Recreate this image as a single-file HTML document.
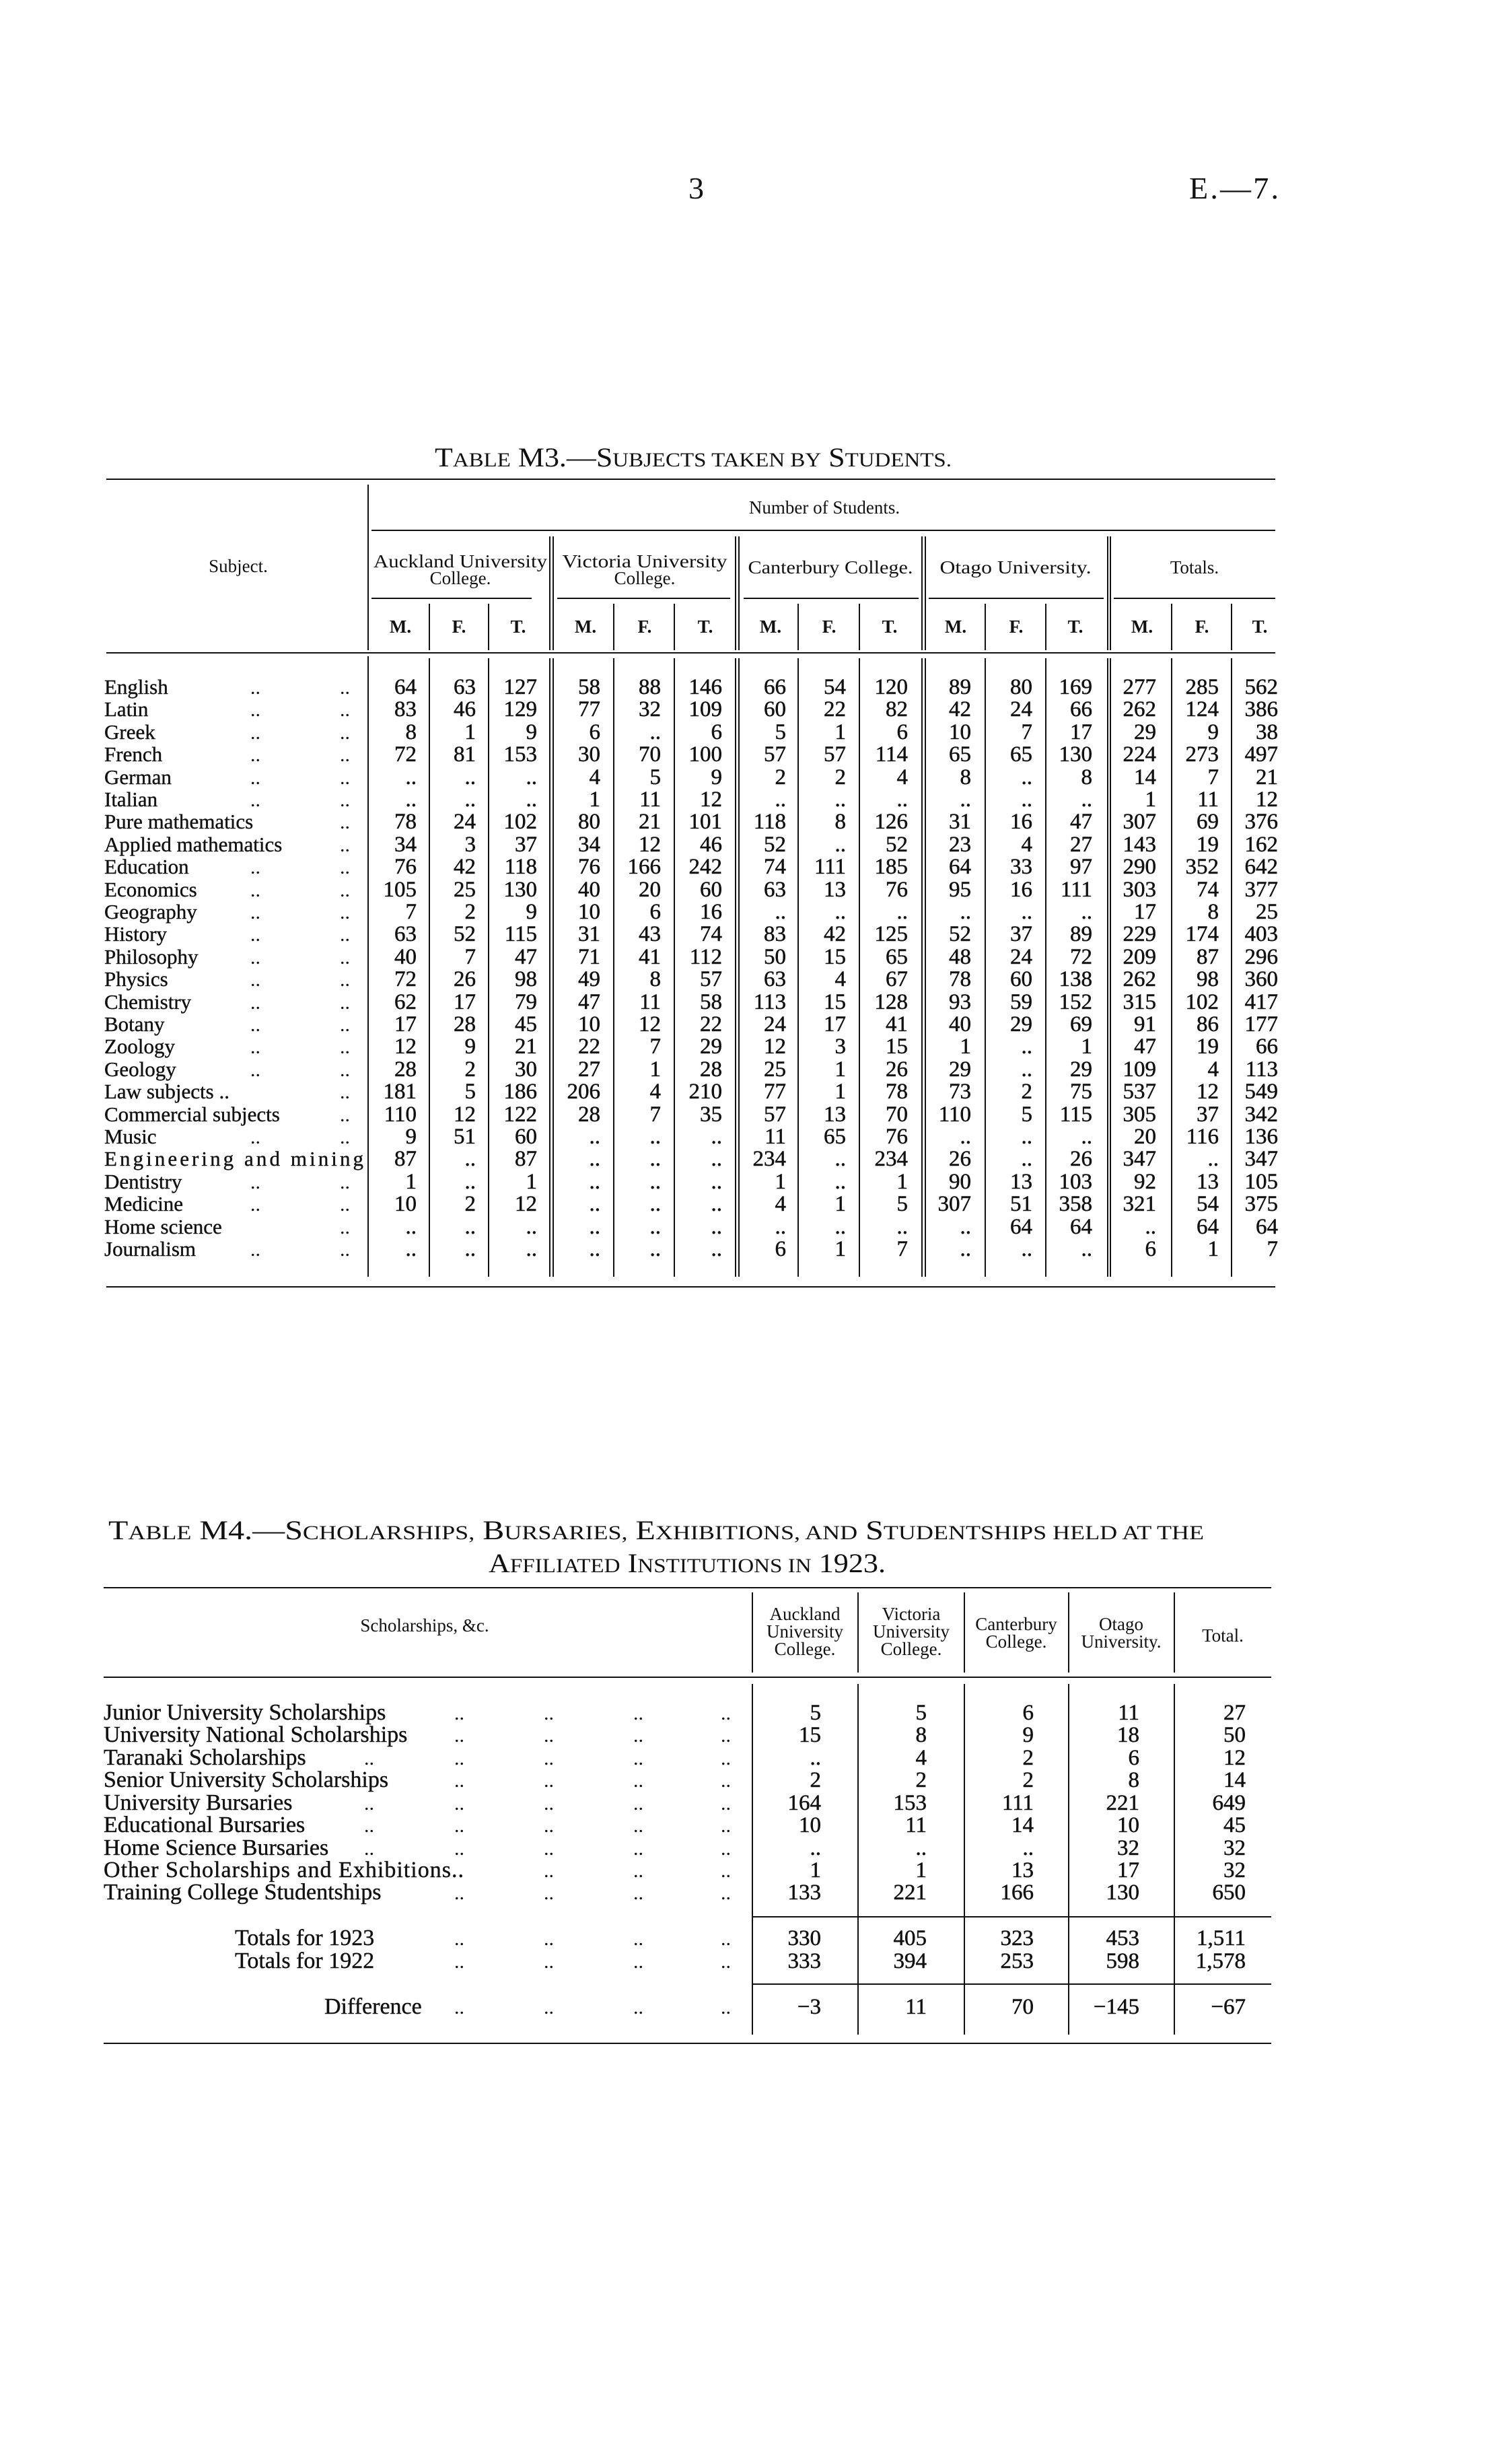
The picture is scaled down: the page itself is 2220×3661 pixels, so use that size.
<!DOCTYPE html>
<html><head><meta charset="utf-8"><style>
html,body{margin:0;padding:0;background:#fff;}
svg{display:block;}
text{font-family:"Liberation Serif",serif;fill:#111;}
.n{font-size:33px;text-anchor:end;stroke:#111;stroke-width:0.5;}
.l{font-size:31px;stroke:#111;stroke-width:0.4;}
.l4{font-size:34px;stroke:#111;stroke-width:0.4;}
.h{font-size:27px;text-anchor:middle;}
.d{font-size:30px;}
</style></head><body>
<svg width="2220" height="3661" viewBox="0 0 2220 3661" xmlns="http://www.w3.org/2000/svg">
<rect width="2220" height="3661" fill="#fff"/>
<text x="1023" y="295" style="font-size:46px">3</text>
<text x="1767" y="295" style="font-size:46px" textLength="133">E.—7.</text>

<text x="646" y="693" textLength="768" lengthAdjust="spacingAndGlyphs" style="font-size:40px">T<tspan style="font-size:30px">ABLE</tspan> M3.—S<tspan style="font-size:30px">UBJECTS TAKEN BY</tspan> S<tspan style="font-size:30px">TUDENTS.</tspan></text>

<g stroke="#111" stroke-width="2" fill="none">
<line x1="158" y1="712" x2="1895" y2="712"/>
<line x1="552" y1="788" x2="1895" y2="788"/>
<line x1="158" y1="970" x2="1895" y2="970"/>
<line x1="158" y1="1912" x2="1895" y2="1912"/>
<line x1="552" y1="889" x2="790" y2="889"/>
<line x1="828" y1="889" x2="1085" y2="889"/>
<line x1="1105" y1="889" x2="1365" y2="889"/>
<line x1="1380" y1="889" x2="1640" y2="889"/>
<line x1="1655" y1="889" x2="1895" y2="889"/>
<line x1="547" y1="720" x2="547" y2="966"/>
<line x1="547" y1="975" x2="547" y2="1897"/>
<line x1="817" y1="797" x2="817" y2="966"/><line x1="822" y1="797" x2="822" y2="966"/>
<line x1="1093" y1="797" x2="1093" y2="966"/><line x1="1098" y1="797" x2="1098" y2="966"/>
<line x1="1370" y1="797" x2="1370" y2="966"/><line x1="1375" y1="797" x2="1375" y2="966"/>
<line x1="1646" y1="797" x2="1646" y2="966"/><line x1="1650" y1="797" x2="1650" y2="966"/>
<line x1="817" y1="978" x2="817" y2="1897"/><line x1="822" y1="978" x2="822" y2="1897"/>
<line x1="1093" y1="978" x2="1093" y2="1897"/><line x1="1098" y1="978" x2="1098" y2="1897"/>
<line x1="1370" y1="978" x2="1370" y2="1897"/><line x1="1375" y1="978" x2="1375" y2="1897"/>
<line x1="1646" y1="978" x2="1646" y2="1897"/><line x1="1650" y1="978" x2="1650" y2="1897"/>
<line x1="638" y1="897" x2="638" y2="966"/><line x1="726" y1="897" x2="726" y2="966"/>
<line x1="912" y1="897" x2="912" y2="966"/><line x1="1002" y1="897" x2="1002" y2="966"/>
<line x1="1186" y1="897" x2="1186" y2="966"/><line x1="1277" y1="897" x2="1277" y2="966"/>
<line x1="1464" y1="897" x2="1464" y2="966"/><line x1="1554" y1="897" x2="1554" y2="966"/>
<line x1="1741" y1="897" x2="1741" y2="966"/><line x1="1830" y1="897" x2="1830" y2="966"/>
<line x1="638" y1="978" x2="638" y2="1897"/><line x1="726" y1="978" x2="726" y2="1897"/>
<line x1="912" y1="978" x2="912" y2="1897"/><line x1="1002" y1="978" x2="1002" y2="1897"/>
<line x1="1186" y1="978" x2="1186" y2="1897"/><line x1="1277" y1="978" x2="1277" y2="1897"/>
<line x1="1464" y1="978" x2="1464" y2="1897"/><line x1="1554" y1="978" x2="1554" y2="1897"/>
<line x1="1741" y1="978" x2="1741" y2="1897"/><line x1="1830" y1="978" x2="1830" y2="1897"/>
</g>

<text class="h" x="354" y="850">Subject.</text>
<text class="h" x="1225" y="763">Number of Students.</text>
<text class="h" x="684" y="843" textLength="258" lengthAdjust="spacingAndGlyphs">Auckland University</text>
<text class="h" x="684" y="868">College.</text>
<text class="h" x="958" y="843" textLength="245" lengthAdjust="spacingAndGlyphs">Victoria University</text>
<text class="h" x="958" y="868">College.</text>
<text class="h" x="1234" y="852" textLength="245" lengthAdjust="spacingAndGlyphs">Canterbury College.</text>
<text class="h" x="1509" y="852" textLength="225" lengthAdjust="spacingAndGlyphs">Otago University.</text>
<text class="h" x="1775" y="852">Totals.</text>
<text class="h" style="font-weight:bold" y="940"><tspan x="595">M.</tspan><tspan x="682">F.</tspan><tspan x="770">T.</tspan><tspan x="870">M.</tspan><tspan x="958">F.</tspan><tspan x="1048">T.</tspan><tspan x="1145">M.</tspan><tspan x="1232">F.</tspan><tspan x="1322">T.</tspan><tspan x="1420">M.</tspan><tspan x="1510">F.</tspan><tspan x="1598">T.</tspan><tspan x="1697">M.</tspan><tspan x="1786">F.</tspan><tspan x="1872">T.</tspan></text>

<g class="l">
<text x="155" y="1031">English</text>
<text x="155" y="1064">Latin</text>
<text x="155" y="1098">Greek</text>
<text x="155" y="1131">French</text>
<text x="155" y="1165">German</text>
<text x="155" y="1198">Italian</text>
<text x="155" y="1231">Pure mathematics</text>
<text x="155" y="1265">Applied mathematics</text>
<text x="155" y="1298">Education</text>
<text x="155" y="1332">Economics</text>
<text x="155" y="1365">Geography</text>
<text x="155" y="1398">History</text>
<text x="155" y="1432">Philosophy</text>
<text x="155" y="1465">Physics</text>
<text x="155" y="1499">Chemistry</text>
<text x="155" y="1532">Botany</text>
<text x="155" y="1565">Zoology</text>
<text x="155" y="1599">Geology</text>
<text x="155" y="1632">Law subjects ..</text>
<text x="155" y="1666">Commercial subjects</text>
<text x="155" y="1699">Music</text>
<text x="155" y="1732" textLength="385">Engineering and mining</text>
<text x="155" y="1766">Dentistry</text>
<text x="155" y="1799">Medicine</text>
<text x="155" y="1833">Home science</text>
<text x="155" y="1866">Journalism</text>
</g>
<g class="d">
<text x="372" y="1031">..</text><text x="505" y="1031">..</text>
<text x="372" y="1064">..</text><text x="505" y="1064">..</text>
<text x="372" y="1098">..</text><text x="505" y="1098">..</text>
<text x="372" y="1131">..</text><text x="505" y="1131">..</text>
<text x="372" y="1165">..</text><text x="505" y="1165">..</text>
<text x="372" y="1198">..</text><text x="505" y="1198">..</text>
<text x="505" y="1231">..</text>
<text x="505" y="1265">..</text>
<text x="372" y="1298">..</text><text x="505" y="1298">..</text>
<text x="372" y="1332">..</text><text x="505" y="1332">..</text>
<text x="372" y="1365">..</text><text x="505" y="1365">..</text>
<text x="372" y="1398">..</text><text x="505" y="1398">..</text>
<text x="372" y="1432">..</text><text x="505" y="1432">..</text>
<text x="372" y="1465">..</text><text x="505" y="1465">..</text>
<text x="372" y="1499">..</text><text x="505" y="1499">..</text>
<text x="372" y="1532">..</text><text x="505" y="1532">..</text>
<text x="372" y="1565">..</text><text x="505" y="1565">..</text>
<text x="372" y="1599">..</text><text x="505" y="1599">..</text>
<text x="505" y="1632">..</text>
<text x="505" y="1666">..</text>
<text x="372" y="1699">..</text><text x="505" y="1699">..</text>
<text x="372" y="1766">..</text><text x="505" y="1766">..</text>
<text x="372" y="1799">..</text><text x="505" y="1799">..</text>
<text x="505" y="1833">..</text>
<text x="372" y="1866">..</text><text x="505" y="1866">..</text>
</g>

<g class="n">
<text y="1031"><tspan x="619">64</tspan><tspan x="707">63</tspan><tspan x="798">127</tspan><tspan x="892">58</tspan><tspan x="982">88</tspan><tspan x="1073">146</tspan><tspan x="1168">66</tspan><tspan x="1257">54</tspan><tspan x="1349">120</tspan><tspan x="1443">89</tspan><tspan x="1534">80</tspan><tspan x="1623">169</tspan><tspan x="1718">277</tspan><tspan x="1811">285</tspan><tspan x="1899">562</tspan></text>
<text y="1064"><tspan x="619">83</tspan><tspan x="707">46</tspan><tspan x="798">129</tspan><tspan x="892">77</tspan><tspan x="982">32</tspan><tspan x="1073">109</tspan><tspan x="1168">60</tspan><tspan x="1257">22</tspan><tspan x="1349">82</tspan><tspan x="1443">42</tspan><tspan x="1534">24</tspan><tspan x="1623">66</tspan><tspan x="1718">262</tspan><tspan x="1811">124</tspan><tspan x="1899">386</tspan></text>
<text y="1098"><tspan x="619">8</tspan><tspan x="707">1</tspan><tspan x="798">9</tspan><tspan x="892">6</tspan><tspan x="982">..</tspan><tspan x="1073">6</tspan><tspan x="1168">5</tspan><tspan x="1257">1</tspan><tspan x="1349">6</tspan><tspan x="1443">10</tspan><tspan x="1534">7</tspan><tspan x="1623">17</tspan><tspan x="1718">29</tspan><tspan x="1811">9</tspan><tspan x="1899">38</tspan></text>
<text y="1131"><tspan x="619">72</tspan><tspan x="707">81</tspan><tspan x="798">153</tspan><tspan x="892">30</tspan><tspan x="982">70</tspan><tspan x="1073">100</tspan><tspan x="1168">57</tspan><tspan x="1257">57</tspan><tspan x="1349">114</tspan><tspan x="1443">65</tspan><tspan x="1534">65</tspan><tspan x="1623">130</tspan><tspan x="1718">224</tspan><tspan x="1811">273</tspan><tspan x="1899">497</tspan></text>
<text y="1165"><tspan x="619">..</tspan><tspan x="707">..</tspan><tspan x="798">..</tspan><tspan x="892">4</tspan><tspan x="982">5</tspan><tspan x="1073">9</tspan><tspan x="1168">2</tspan><tspan x="1257">2</tspan><tspan x="1349">4</tspan><tspan x="1443">8</tspan><tspan x="1534">..</tspan><tspan x="1623">8</tspan><tspan x="1718">14</tspan><tspan x="1811">7</tspan><tspan x="1899">21</tspan></text>
<text y="1198"><tspan x="619">..</tspan><tspan x="707">..</tspan><tspan x="798">..</tspan><tspan x="892">1</tspan><tspan x="982">11</tspan><tspan x="1073">12</tspan><tspan x="1168">..</tspan><tspan x="1257">..</tspan><tspan x="1349">..</tspan><tspan x="1443">..</tspan><tspan x="1534">..</tspan><tspan x="1623">..</tspan><tspan x="1718">1</tspan><tspan x="1811">11</tspan><tspan x="1899">12</tspan></text>
<text y="1231"><tspan x="619">78</tspan><tspan x="707">24</tspan><tspan x="798">102</tspan><tspan x="892">80</tspan><tspan x="982">21</tspan><tspan x="1073">101</tspan><tspan x="1168">118</tspan><tspan x="1257">8</tspan><tspan x="1349">126</tspan><tspan x="1443">31</tspan><tspan x="1534">16</tspan><tspan x="1623">47</tspan><tspan x="1718">307</tspan><tspan x="1811">69</tspan><tspan x="1899">376</tspan></text>
<text y="1265"><tspan x="619">34</tspan><tspan x="707">3</tspan><tspan x="798">37</tspan><tspan x="892">34</tspan><tspan x="982">12</tspan><tspan x="1073">46</tspan><tspan x="1168">52</tspan><tspan x="1257">..</tspan><tspan x="1349">52</tspan><tspan x="1443">23</tspan><tspan x="1534">4</tspan><tspan x="1623">27</tspan><tspan x="1718">143</tspan><tspan x="1811">19</tspan><tspan x="1899">162</tspan></text>
<text y="1298"><tspan x="619">76</tspan><tspan x="707">42</tspan><tspan x="798">118</tspan><tspan x="892">76</tspan><tspan x="982">166</tspan><tspan x="1073">242</tspan><tspan x="1168">74</tspan><tspan x="1257">111</tspan><tspan x="1349">185</tspan><tspan x="1443">64</tspan><tspan x="1534">33</tspan><tspan x="1623">97</tspan><tspan x="1718">290</tspan><tspan x="1811">352</tspan><tspan x="1899">642</tspan></text>
<text y="1332"><tspan x="619">105</tspan><tspan x="707">25</tspan><tspan x="798">130</tspan><tspan x="892">40</tspan><tspan x="982">20</tspan><tspan x="1073">60</tspan><tspan x="1168">63</tspan><tspan x="1257">13</tspan><tspan x="1349">76</tspan><tspan x="1443">95</tspan><tspan x="1534">16</tspan><tspan x="1623">111</tspan><tspan x="1718">303</tspan><tspan x="1811">74</tspan><tspan x="1899">377</tspan></text>
<text y="1365"><tspan x="619">7</tspan><tspan x="707">2</tspan><tspan x="798">9</tspan><tspan x="892">10</tspan><tspan x="982">6</tspan><tspan x="1073">16</tspan><tspan x="1168">..</tspan><tspan x="1257">..</tspan><tspan x="1349">..</tspan><tspan x="1443">..</tspan><tspan x="1534">..</tspan><tspan x="1623">..</tspan><tspan x="1718">17</tspan><tspan x="1811">8</tspan><tspan x="1899">25</tspan></text>
<text y="1398"><tspan x="619">63</tspan><tspan x="707">52</tspan><tspan x="798">115</tspan><tspan x="892">31</tspan><tspan x="982">43</tspan><tspan x="1073">74</tspan><tspan x="1168">83</tspan><tspan x="1257">42</tspan><tspan x="1349">125</tspan><tspan x="1443">52</tspan><tspan x="1534">37</tspan><tspan x="1623">89</tspan><tspan x="1718">229</tspan><tspan x="1811">174</tspan><tspan x="1899">403</tspan></text>
<text y="1432"><tspan x="619">40</tspan><tspan x="707">7</tspan><tspan x="798">47</tspan><tspan x="892">71</tspan><tspan x="982">41</tspan><tspan x="1073">112</tspan><tspan x="1168">50</tspan><tspan x="1257">15</tspan><tspan x="1349">65</tspan><tspan x="1443">48</tspan><tspan x="1534">24</tspan><tspan x="1623">72</tspan><tspan x="1718">209</tspan><tspan x="1811">87</tspan><tspan x="1899">296</tspan></text>
<text y="1465"><tspan x="619">72</tspan><tspan x="707">26</tspan><tspan x="798">98</tspan><tspan x="892">49</tspan><tspan x="982">8</tspan><tspan x="1073">57</tspan><tspan x="1168">63</tspan><tspan x="1257">4</tspan><tspan x="1349">67</tspan><tspan x="1443">78</tspan><tspan x="1534">60</tspan><tspan x="1623">138</tspan><tspan x="1718">262</tspan><tspan x="1811">98</tspan><tspan x="1899">360</tspan></text>
<text y="1499"><tspan x="619">62</tspan><tspan x="707">17</tspan><tspan x="798">79</tspan><tspan x="892">47</tspan><tspan x="982">11</tspan><tspan x="1073">58</tspan><tspan x="1168">113</tspan><tspan x="1257">15</tspan><tspan x="1349">128</tspan><tspan x="1443">93</tspan><tspan x="1534">59</tspan><tspan x="1623">152</tspan><tspan x="1718">315</tspan><tspan x="1811">102</tspan><tspan x="1899">417</tspan></text>
<text y="1532"><tspan x="619">17</tspan><tspan x="707">28</tspan><tspan x="798">45</tspan><tspan x="892">10</tspan><tspan x="982">12</tspan><tspan x="1073">22</tspan><tspan x="1168">24</tspan><tspan x="1257">17</tspan><tspan x="1349">41</tspan><tspan x="1443">40</tspan><tspan x="1534">29</tspan><tspan x="1623">69</tspan><tspan x="1718">91</tspan><tspan x="1811">86</tspan><tspan x="1899">177</tspan></text>
<text y="1565"><tspan x="619">12</tspan><tspan x="707">9</tspan><tspan x="798">21</tspan><tspan x="892">22</tspan><tspan x="982">7</tspan><tspan x="1073">29</tspan><tspan x="1168">12</tspan><tspan x="1257">3</tspan><tspan x="1349">15</tspan><tspan x="1443">1</tspan><tspan x="1534">..</tspan><tspan x="1623">1</tspan><tspan x="1718">47</tspan><tspan x="1811">19</tspan><tspan x="1899">66</tspan></text>
<text y="1599"><tspan x="619">28</tspan><tspan x="707">2</tspan><tspan x="798">30</tspan><tspan x="892">27</tspan><tspan x="982">1</tspan><tspan x="1073">28</tspan><tspan x="1168">25</tspan><tspan x="1257">1</tspan><tspan x="1349">26</tspan><tspan x="1443">29</tspan><tspan x="1534">..</tspan><tspan x="1623">29</tspan><tspan x="1718">109</tspan><tspan x="1811">4</tspan><tspan x="1899">113</tspan></text>
<text y="1632"><tspan x="619">181</tspan><tspan x="707">5</tspan><tspan x="798">186</tspan><tspan x="892">206</tspan><tspan x="982">4</tspan><tspan x="1073">210</tspan><tspan x="1168">77</tspan><tspan x="1257">1</tspan><tspan x="1349">78</tspan><tspan x="1443">73</tspan><tspan x="1534">2</tspan><tspan x="1623">75</tspan><tspan x="1718">537</tspan><tspan x="1811">12</tspan><tspan x="1899">549</tspan></text>
<text y="1666"><tspan x="619">110</tspan><tspan x="707">12</tspan><tspan x="798">122</tspan><tspan x="892">28</tspan><tspan x="982">7</tspan><tspan x="1073">35</tspan><tspan x="1168">57</tspan><tspan x="1257">13</tspan><tspan x="1349">70</tspan><tspan x="1443">110</tspan><tspan x="1534">5</tspan><tspan x="1623">115</tspan><tspan x="1718">305</tspan><tspan x="1811">37</tspan><tspan x="1899">342</tspan></text>
<text y="1699"><tspan x="619">9</tspan><tspan x="707">51</tspan><tspan x="798">60</tspan><tspan x="892">..</tspan><tspan x="982">..</tspan><tspan x="1073">..</tspan><tspan x="1168">11</tspan><tspan x="1257">65</tspan><tspan x="1349">76</tspan><tspan x="1443">..</tspan><tspan x="1534">..</tspan><tspan x="1623">..</tspan><tspan x="1718">20</tspan><tspan x="1811">116</tspan><tspan x="1899">136</tspan></text>
<text y="1732"><tspan x="619">87</tspan><tspan x="707">..</tspan><tspan x="798">87</tspan><tspan x="892">..</tspan><tspan x="982">..</tspan><tspan x="1073">..</tspan><tspan x="1168">234</tspan><tspan x="1257">..</tspan><tspan x="1349">234</tspan><tspan x="1443">26</tspan><tspan x="1534">..</tspan><tspan x="1623">26</tspan><tspan x="1718">347</tspan><tspan x="1811">..</tspan><tspan x="1899">347</tspan></text>
<text y="1766"><tspan x="619">1</tspan><tspan x="707">..</tspan><tspan x="798">1</tspan><tspan x="892">..</tspan><tspan x="982">..</tspan><tspan x="1073">..</tspan><tspan x="1168">1</tspan><tspan x="1257">..</tspan><tspan x="1349">1</tspan><tspan x="1443">90</tspan><tspan x="1534">13</tspan><tspan x="1623">103</tspan><tspan x="1718">92</tspan><tspan x="1811">13</tspan><tspan x="1899">105</tspan></text>
<text y="1799"><tspan x="619">10</tspan><tspan x="707">2</tspan><tspan x="798">12</tspan><tspan x="892">..</tspan><tspan x="982">..</tspan><tspan x="1073">..</tspan><tspan x="1168">4</tspan><tspan x="1257">1</tspan><tspan x="1349">5</tspan><tspan x="1443">307</tspan><tspan x="1534">51</tspan><tspan x="1623">358</tspan><tspan x="1718">321</tspan><tspan x="1811">54</tspan><tspan x="1899">375</tspan></text>
<text y="1833"><tspan x="619">..</tspan><tspan x="707">..</tspan><tspan x="798">..</tspan><tspan x="892">..</tspan><tspan x="982">..</tspan><tspan x="1073">..</tspan><tspan x="1168">..</tspan><tspan x="1257">..</tspan><tspan x="1349">..</tspan><tspan x="1443">..</tspan><tspan x="1534">64</tspan><tspan x="1623">64</tspan><tspan x="1718">..</tspan><tspan x="1811">64</tspan><tspan x="1899">64</tspan></text>
<text y="1866"><tspan x="619">..</tspan><tspan x="707">..</tspan><tspan x="798">..</tspan><tspan x="892">..</tspan><tspan x="982">..</tspan><tspan x="1073">..</tspan><tspan x="1168">6</tspan><tspan x="1257">1</tspan><tspan x="1349">7</tspan><tspan x="1443">..</tspan><tspan x="1534">..</tspan><tspan x="1623">..</tspan><tspan x="1718">6</tspan><tspan x="1811">1</tspan><tspan x="1899">7</tspan></text>
</g>

<text x="161" y="2287" textLength="1628" lengthAdjust="spacingAndGlyphs" style="font-size:40px">T<tspan style="font-size:30px">ABLE</tspan> M4.—S<tspan style="font-size:30px">CHOLARSHIPS,</tspan> B<tspan style="font-size:30px">URSARIES,</tspan> E<tspan style="font-size:30px">XHIBITIONS, AND</tspan> S<tspan style="font-size:30px">TUDENTSHIPS HELD AT THE</tspan></text>
<text x="726" y="2336" textLength="590" lengthAdjust="spacingAndGlyphs" style="font-size:40px">A<tspan style="font-size:30px">FFILIATED</tspan> I<tspan style="font-size:30px">NSTITUTIONS IN</tspan> 1923.</text>

<g stroke="#111" stroke-width="2" fill="none">
<line x1="154" y1="2359" x2="1889" y2="2359"/>
<line x1="154" y1="2492" x2="1889" y2="2492"/>
<line x1="154" y1="3036" x2="1889" y2="3036"/>
<line x1="1118" y1="2366" x2="1118" y2="2485"/><line x1="1275" y1="2366" x2="1275" y2="2485"/><line x1="1433" y1="2366" x2="1433" y2="2485"/><line x1="1588" y1="2366" x2="1588" y2="2485"/><line x1="1745" y1="2366" x2="1745" y2="2485"/>
<line x1="1118" y1="2502" x2="1118" y2="3023"/><line x1="1275" y1="2502" x2="1275" y2="3023"/><line x1="1433" y1="2502" x2="1433" y2="3023"/><line x1="1588" y1="2502" x2="1588" y2="3023"/><line x1="1745" y1="2502" x2="1745" y2="3023"/>
<line x1="1118" y1="2848" x2="1889" y2="2848"/>
<line x1="1118" y1="2948" x2="1889" y2="2948"/>
</g>
<text class="h" x="631" y="2424">Scholarships, &amp;c.</text>
<g class="h">
<text x="1196" y="2407">Auckland</text><text x="1196" y="2433">University</text><text x="1196" y="2459">College.</text>
<text x="1354" y="2407">Victoria</text><text x="1354" y="2433">University</text><text x="1354" y="2459">College.</text>
<text x="1510" y="2422">Canterbury</text><text x="1510" y="2448">College.</text>
<text x="1666" y="2422">Otago</text><text x="1666" y="2448">University.</text>
<text x="1817" y="2439">Total.</text>
</g>
<g class="l4">
<text x="154" y="2555">Junior University Scholarships</text>
<text x="154" y="2588">University National Scholarships</text>
<text x="154" y="2622">Taranaki Scholarships</text>
<text x="154" y="2655">Senior University Scholarships</text>
<text x="154" y="2689">University Bursaries</text>
<text x="154" y="2722">Educational Bursaries</text>
<text x="154" y="2756">Home Science Bursaries</text>
<text x="154" y="2789" textLength="535">Other Scholarships and Exhibitions..</text>
<text x="154" y="2822">Training College Studentships</text>
<text x="349" y="2890">Totals for 1923</text>
<text x="349" y="2924">Totals for 1922</text>
<text x="482" y="2992">Difference</text>
</g>
<g class="d">
<text y="2555"><tspan x="675">..</tspan><tspan x="808">..</tspan><tspan x="941">..</tspan><tspan x="1071">..</tspan></text>
<text y="2588"><tspan x="675">..</tspan><tspan x="808">..</tspan><tspan x="941">..</tspan><tspan x="1071">..</tspan></text>
<text y="2622"><tspan x="541">..</tspan><tspan x="675">..</tspan><tspan x="808">..</tspan><tspan x="941">..</tspan><tspan x="1071">..</tspan></text>
<text y="2655"><tspan x="675">..</tspan><tspan x="808">..</tspan><tspan x="941">..</tspan><tspan x="1071">..</tspan></text>
<text y="2689"><tspan x="541">..</tspan><tspan x="675">..</tspan><tspan x="808">..</tspan><tspan x="941">..</tspan><tspan x="1071">..</tspan></text>
<text y="2722"><tspan x="541">..</tspan><tspan x="675">..</tspan><tspan x="808">..</tspan><tspan x="941">..</tspan><tspan x="1071">..</tspan></text>
<text y="2756"><tspan x="541">..</tspan><tspan x="675">..</tspan><tspan x="808">..</tspan><tspan x="941">..</tspan><tspan x="1071">..</tspan></text>
<text y="2789"><tspan x="808">..</tspan><tspan x="941">..</tspan><tspan x="1071">..</tspan></text>
<text y="2822"><tspan x="675">..</tspan><tspan x="808">..</tspan><tspan x="941">..</tspan><tspan x="1071">..</tspan></text>
<text y="2890"><tspan x="675">..</tspan><tspan x="808">..</tspan><tspan x="941">..</tspan><tspan x="1071">..</tspan></text>
<text y="2924"><tspan x="675">..</tspan><tspan x="808">..</tspan><tspan x="941">..</tspan><tspan x="1071">..</tspan></text>
<text y="2992"><tspan x="675">..</tspan><tspan x="808">..</tspan><tspan x="941">..</tspan><tspan x="1071">..</tspan></text>
</g>
<g class="n">
<text y="2555"><tspan x="1220">5</tspan><tspan x="1377">5</tspan><tspan x="1536">6</tspan><tspan x="1693">11</tspan><tspan x="1851">27</tspan></text>
<text y="2588"><tspan x="1220">15</tspan><tspan x="1377">8</tspan><tspan x="1536">9</tspan><tspan x="1693">18</tspan><tspan x="1851">50</tspan></text>
<text y="2622"><tspan x="1220">..</tspan><tspan x="1377">4</tspan><tspan x="1536">2</tspan><tspan x="1693">6</tspan><tspan x="1851">12</tspan></text>
<text y="2655"><tspan x="1220">2</tspan><tspan x="1377">2</tspan><tspan x="1536">2</tspan><tspan x="1693">8</tspan><tspan x="1851">14</tspan></text>
<text y="2689"><tspan x="1220">164</tspan><tspan x="1377">153</tspan><tspan x="1536">111</tspan><tspan x="1693">221</tspan><tspan x="1851">649</tspan></text>
<text y="2722"><tspan x="1220">10</tspan><tspan x="1377">11</tspan><tspan x="1536">14</tspan><tspan x="1693">10</tspan><tspan x="1851">45</tspan></text>
<text y="2756"><tspan x="1220">..</tspan><tspan x="1377">..</tspan><tspan x="1536">..</tspan><tspan x="1693">32</tspan><tspan x="1851">32</tspan></text>
<text y="2789"><tspan x="1220">1</tspan><tspan x="1377">1</tspan><tspan x="1536">13</tspan><tspan x="1693">17</tspan><tspan x="1851">32</tspan></text>
<text y="2822"><tspan x="1220">133</tspan><tspan x="1377">221</tspan><tspan x="1536">166</tspan><tspan x="1693">130</tspan><tspan x="1851">650</tspan></text>
<text y="2890"><tspan x="1220">330</tspan><tspan x="1377">405</tspan><tspan x="1536">323</tspan><tspan x="1693">453</tspan><tspan x="1851">1,511</tspan></text>
<text y="2924"><tspan x="1220">333</tspan><tspan x="1377">394</tspan><tspan x="1536">253</tspan><tspan x="1693">598</tspan><tspan x="1851">1,578</tspan></text>
<text y="2992"><tspan x="1220">−3</tspan><tspan x="1377">11</tspan><tspan x="1536">70</tspan><tspan x="1693">−145</tspan><tspan x="1851">−67</tspan></text>
</g>
</svg>
</body></html>
